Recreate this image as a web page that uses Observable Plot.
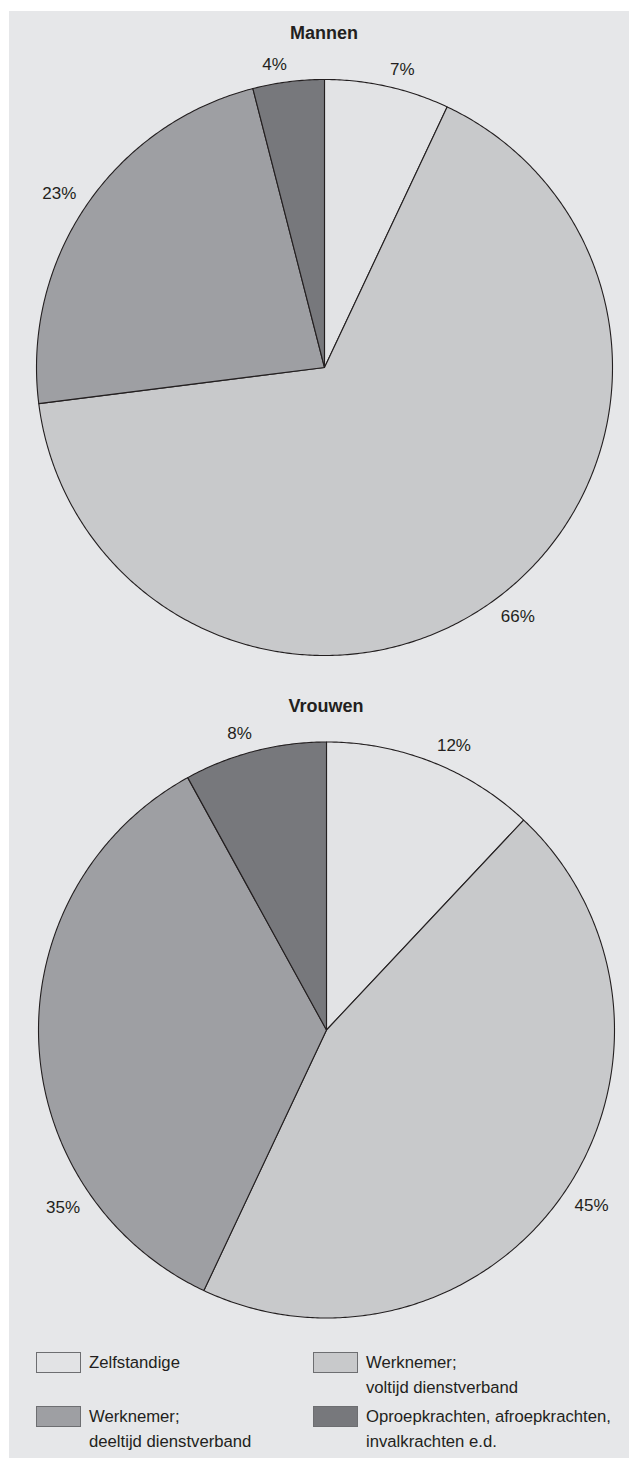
<!DOCTYPE html>
<html><head><meta charset="utf-8">
<script src="https://cdn.jsdelivr.net/npm/d3@7"></script>
<script src="https://cdn.jsdelivr.net/npm/@observablehq/plot@0.6"></script>
<style>
html,body{margin:0;padding:0;background:#ffffff;}
body{font-family:"Liberation Sans",Arial,Helvetica,sans-serif;color:#231f20;}
#panel{position:absolute;left:9px;top:11px;width:620px;height:1447px;background:#e6e7e9;overflow:hidden;}
.chart{position:absolute;left:0;}
.title{position:absolute;font-weight:bold;font-size:18px;line-height:22px;transform:translate(-50%,-50%);white-space:nowrap;}
.lg{position:absolute;display:flex;align-items:flex-start;}
.sw{width:45px;height:21px;box-sizing:border-box;border:1px solid #6d6e71;margin-top:1px;}
.lt{margin-left:8px;font-size:16.7px;line-height:25px;margin-top:-1px;white-space:nowrap;}
</style></head>
<body><div id="panel"></div>
<script>
const categories = ["Zelfstandige", "Werknemer; voltijd dienstverband", "Werknemer; deeltijd dienstverband", "Oproepkrachten, afroepkrachten, invalkrachten e.d."];
const legendLines = [["Zelfstandige"], ["Werknemer;", "voltijd dienstverband"], ["Werknemer;", "deeltijd dienstverband"], ["Oproepkrachten, afroepkrachten,", "invalkrachten e.d."]];
const mannen = [7, 66, 23, 4];
const vrouwen = [12, 45, 35, 8];
const colors = ["#e2e3e5", "#c8c9cb", "#9e9fa3", "#77787c"];

const panel = document.getElementById("panel");
const W = 620;
const LABEL_SIZE = 17;

function pieChart(values, height, cx, cy, r) {
  const arcs = d3.pie().sort(null).value(d => d)(values);
  const pts = [];
  const labels = [];
  arcs.forEach((a, i) => {
    const span = a.endAngle - a.startAngle;
    const n = Math.max(2, Math.ceil(span / (Math.PI / 360)));
    pts.push({cat: categories[i], x: 0, y: 0});
    for (let k = 0; k <= n; k++) {
      const t = a.startAngle + span * k / n;
      pts.push({cat: categories[i], x: r * Math.sin(t), y: -r * Math.cos(t)});
    }
    // label anchored just outside the circle at the slice middle;
    // if it would leave the panel, slide it along the arc toward the slice start
    const text = a.data + "%";
    const rl = r + 12;
    const w = text.length * LABEL_SIZE * 0.6;
    let t = (a.startAngle + a.endAngle) / 2;
    if (Math.sin(t) < 0 && cx + rl * Math.sin(t) - w < 10) {
      const s = -(cx - 40 - w) / rl;
      const tt = Math.PI + Math.asin(-s);
      t = Math.max(a.startAngle, Math.min(t, tt));
    }
    labels.push({
      x: rl * Math.sin(t), y: -rl * Math.cos(t), text,
      side: Math.sin(t) >= 0 ? "start" : "end",
      vert: Math.cos(t) >= 0 ? "bottom" : "top"
    });
  });
  const textMarks = [];
  for (const side of ["start", "end"]) for (const vert of ["top", "bottom"]) {
    textMarks.push(Plot.text(labels.filter(d => d.side === side && d.vert === vert), {
      x: "x", y: "y", text: "text", textAnchor: side, lineAnchor: vert,
      fontSize: LABEL_SIZE, fill: "#231f20", fontFamily: "Liberation Sans, Arial, sans-serif"
    }));
  }
  return Plot.plot({
    width: W, height, margin: 0,
    x: {domain: [-cx, W - cx], range: [0, W], axis: null},
    y: {domain: [-cy, height - cy], range: [0, height], axis: null},
    color: {domain: categories, range: colors},
    style: {background: "transparent", overflow: "visible"},
    marks: [
      Plot.line(pts, {x: "x", y: "y", z: "cat", fill: "cat", stroke: "#231f20", strokeWidth: 1.1, strokeLinejoin: "round", curve: "linear-closed"}),
      ...textMarks
    ]
  });
}

function addChart(title, values, top, height, cx, cy, r, titleY) {
  const svg = pieChart(values, height, cx, cy, r);
  svg.classList.add("chart");
  svg.style.top = top + "px";
  panel.appendChild(svg);
  const t = document.createElement("div");
  t.className = "title";
  t.textContent = title;
  t.style.left = cx + "px";
  t.style.top = titleY + "px";
  panel.appendChild(t);
}

addChart("Mannen", mannen, 0, 672, 315, 356, 288, 22);
addChart("Vrouwen", vrouwen, 672, 680, 317, 346.5, 288, 695);

// legend
const legendPos = [[27, 1340], [304, 1340], [27, 1394], [304, 1394]];
categories.forEach((c, i) => {
  const d = document.createElement("div");
  d.className = "lg";
  d.style.left = legendPos[i][0] + "px";
  d.style.top = legendPos[i][1] + "px";
  const sw = document.createElement("div");
  sw.className = "sw";
  sw.style.background = colors[i];
  const tx = document.createElement("div");
  tx.className = "lt";
  tx.innerHTML = legendLines[i].join("<br>");
  d.appendChild(sw);
  d.appendChild(tx);
  panel.appendChild(d);
});
</script>
</body></html>
